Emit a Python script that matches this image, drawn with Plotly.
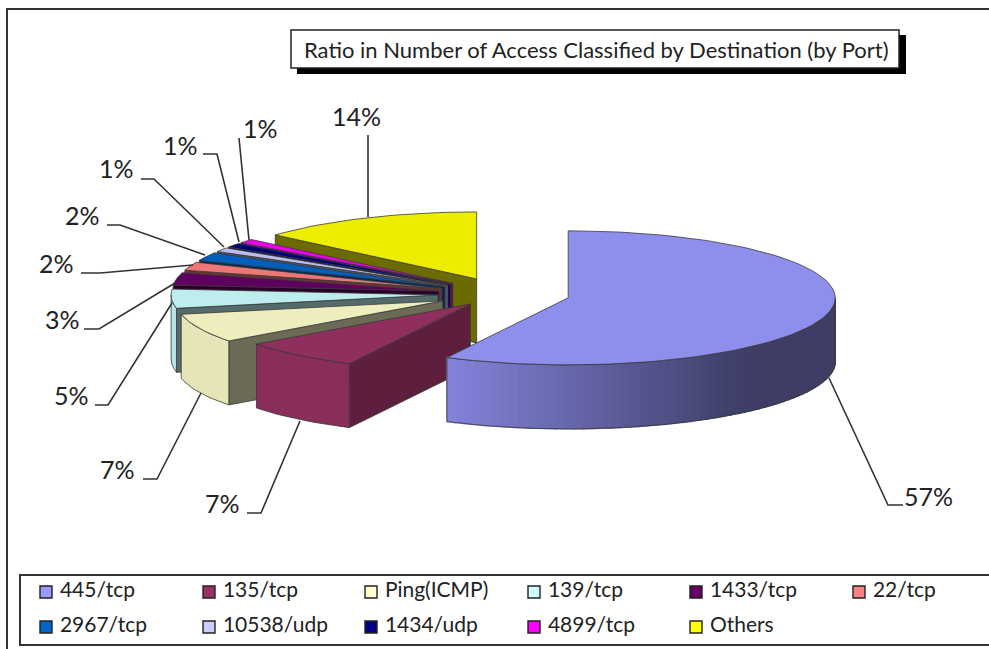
import math
import plotly.graph_objects as go

categories = ["445/tcp", "135/tcp", "Ping(ICMP)", "139/tcp", "1433/tcp", "22/tcp",
              "2967/tcp", "10538/udp", "1434/udp", "4899/tcp", "Others"]
shares = [57.5, 7.3, 7.0, 4.6, 3.0, 2.0, 2.0, 1.0, 1.0, 1.0, 13.6]
colors = ["#9999ff", "#993366", "#ffffcc", "#ccffff", "#660066", "#ff8080",
          "#0066cc", "#ccccff", "#000080", "#ff00ff", "#ffff00"]
explode = [66, 52, 67, 66, 66, 66, 66, 66, 66, 66, 66]
face_shade = [0.4, 0.62, 0.42, 0.42, 0.42, 0.42, 0.42, 0.42, 0.42, 0.42, 0.42]
label_xy = [(928, 496), (222, 503), (117, 469), (71, 395), (62, 319), (56, 263),
            (82, 215), (116, 168), (180, 145), (260, 128), (356, 116)]
leader_pts = [[(829, 378), (888, 505), (903, 505)],
              [(300, 421), (261, 513), (247, 513)],
              [(201, 393), (157, 479), (143, 479)],
              [(172, 303), (108, 405), (95, 405)],
              [(175, 283), (99, 329), (84, 329)],
              [(193, 265), (100, 273), (81, 273)],
              [(205, 255), (120, 225), (107, 225)],
              [(224, 247), (154, 179), (141, 179)],
              [(239, 242), (217, 154), (203, 154)],
              [(249, 240), (239, 138)],
              [(368, 217), (368, 135)]]

CX, CY, RX, RY, DEPTH = 504, 294, 267, 67, 64
FONT = "Lato"


def shade(hex_color, f):
    r, g, b = [int(hex_color[i:i + 2], 16) for i in (1, 3, 5)]
    return "rgb(%d,%d,%d)" % (r * f, g * f, b * f)


def rim(ax, ay, deg):
    a = math.radians(deg)
    return ax + RX * math.sin(a), ay - RY * math.cos(a)


fig = go.Figure()


def poly(pts, fill, edge="#3a3a3a", width=0.8):
    fig.add_trace(go.Scatter(x=[p[0] for p in pts], y=[p[1] for p in pts], mode="lines",
                             fill="toself", fillcolor=fill, showlegend=False, hoverinfo="skip",
                             line=dict(color=edge if edge else fill, width=width)))


total = sum(shares)
spans, c = [], 0.0
for v in shares:
    spans.append((c / total * 360, (c + v) / total * 360))
    c += v


def draw_slice(i):
    a0, a1 = spans[i]
    mid = math.radians((a0 + a1) / 2)
    ax = CX + explode[i] * math.sin(mid)
    ay = CY - explode[i] * math.cos(mid) * RY / RX
    col = colors[i]
    for ang, vis in ((a0, 180 <= a0 < 360), (a1, 0 < a1 < 180)):
        if vis:
            x1, y1 = rim(ax, ay, ang)
            poly([(ax, ay), (x1, y1), (x1, y1 + DEPTH), (ax, ay + DEPTH), (ax, ay)], shade(col, face_shade[i]))
    lo, hi = max(a0, 90), min(a1, 270)
    if lo < hi:
        n = max(2, int((hi - lo) / 2))
        top = [rim(ax, ay, lo + (hi - lo) * k / n) for k in range(n + 1)]
        if i == 0:
            # gradient wall: lighter at the left end, dark towards the right
            x_left = min(p[0] for p in top)
            for k in range(n):
                p0, p1 = top[k], top[k + 1]
                t = min(1.0, max(0.0, ((p0[0] + p1[0]) / 2 - x_left) / 300))
                fill = shade(col, 0.86 - 0.46 * t)
                poly([p0, p1, (p1[0], p1[1] + DEPTH), (p0[0], p0[1] + DEPTH), p0], fill, None, 1.4)
        outline = top + [(p[0], p[1] + DEPTH) for p in reversed(top)] + [top[0]]
        fig.add_trace(go.Scatter(x=[p[0] for p in outline], y=[p[1] for p in outline], mode="lines",
                                 fill=None if i == 0 else "toself",
                                 fillcolor=None if i == 0 else shade(col, 0.9),
                                 showlegend=False, hoverinfo="skip",
                                 line=dict(color="#3a3a3a", width=0.8)))
    n = max(2, int((a1 - a0) / 2))
    pts = [(ax, ay)] + [rim(ax, ay, a0 + (a1 - a0) * k / n) for k in range(n + 1)] + [(ax, ay)]
    poly(pts, shade(col, 0.93))


for i in [10, 9, 8, 7, 6, 5, 4, 3, 2, 1, 0]:
    draw_slice(i)

for i, v in enumerate(shares):
    pts = leader_pts[i]
    fig.add_trace(go.Scatter(x=[p[0] for p in pts], y=[p[1] for p in pts], mode="lines",
                             showlegend=False, hoverinfo="skip", line=dict(color="#333333", width=1.6)))
    lx, ly = label_xy[i]
    fig.add_annotation(x=lx, y=ly, text="%d%%" % round(v / total * 100), showarrow=False,
                       font=dict(family=FONT, size=25, color="#222222"))

LEG_X = [46, 209, 371, 534, 696, 859]
LEG_Y = [592, 627]
for i, name in enumerate(categories):
    fig.add_trace(go.Scatter(x=[LEG_X[i % 6]], y=[LEG_Y[i // 6]], mode="markers+text", text=["\u00a0" + name],
                             textposition="middle right", textfont=dict(family=FONT, size=21, color="#222222"),
                             marker=dict(symbol="square", size=12, color=colors[i], line=dict(color="#222222", width=1.4)),
                             showlegend=False, name=name, hoverinfo="name"))

shapes = [
    dict(type="rect", x0=7, y0=9, x1=1000, y1=660, line=dict(color="#333333", width=2)),
    dict(type="rect", x0=20, y0=575, x1=1000, y1=645, line=dict(color="#333333", width=2)),
    dict(type="rect", x0=297, y0=35, x1=906, y1=74, fillcolor="#000000", line=dict(width=0)),
    dict(type="rect", x0=291, y0=30, x1=899, y1=68, fillcolor="#ffffff", line=dict(color="#222222", width=1.5)),
]
for s in shapes:
    s["layer"] = "below"

fig.add_annotation(x=596, y=49, text="Ratio in Number of Access Classified by Destination (by Port)",
                   showarrow=False, font=dict(family=FONT, size=22, color="#222222"))

fig.update_layout(width=989, height=649, margin=dict(l=0, r=0, t=0, b=0), autosize=False,
                  paper_bgcolor="white", plot_bgcolor="white", shapes=shapes, showlegend=False,
                  xaxis=dict(range=[0, 989], visible=False, fixedrange=True),
                  yaxis=dict(range=[649, 0], visible=False, fixedrange=True))
fig.write_html("out.html", config={"displayModeBar": False},
               post_script="document.body.style.margin='0';document.body.style.overflow='hidden';")
